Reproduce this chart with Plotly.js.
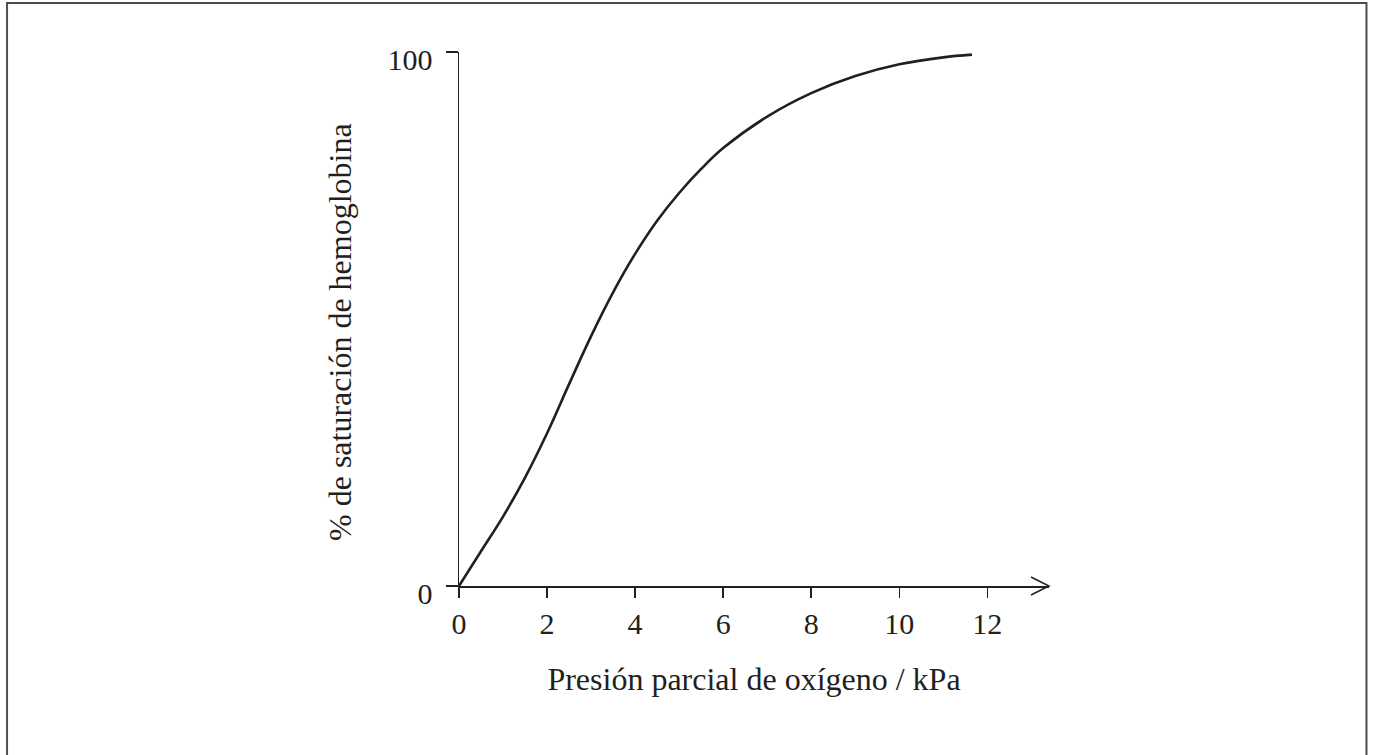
<!DOCTYPE html>
<html>
<head>
<meta charset="utf-8">
<script src="https://cdn.plot.ly/plotly-3.0.1.min.js"></script>
<style>html,body{margin:0;padding:0;background:#fff;}#chart{width:1375px;height:755px;}</style>
</head>
<body>
<div id="chart"></div>
<script>
// Data
const pressure = [0, 0.5, 1, 1.5, 2, 2.5, 3, 3.5, 4, 4.5, 5, 5.5, 6, 7, 8, 9, 10, 11, 11.65];
const saturation = [0, 6.5, 13.0, 20.3, 28.6, 37.8, 46.8, 55.0, 62.2, 68.4, 73.6, 78.1, 82.0, 87.9, 92.3, 95.5, 97.7, 99.0, 99.5];
const xTickVals = [0, 2, 4, 6, 8, 10, 12];
const xTickText = ["0", "2", "4", "6", "8", "10", "12"];
const yTickVals = [0, 100];
const yTickText = ["0", "100"];
const xTitle = "Presión parcial de oxígeno / kPa";
const yTitle = "% de saturación de hemoglobina";

const ink = "#231f20";
const serif = "Liberation Serif, Times New Roman, serif";

const trace = {
  x: pressure,
  y: saturation,
  type: "scatter",
  mode: "lines",
  line: {color: ink, width: 2.6, shape: "spline", smoothing: 1},
  hoverinfo: "skip",
  cliponaxis: false
};

const layout = {
  width: 1375,
  height: 755,
  margin: {l: 459, r: 326, t: 52, b: 169},
  paper_bgcolor: "#ffffff",
  plot_bgcolor: "#ffffff",
  showlegend: false,
  font: {family: serif, color: ink, size: 30},
  xaxis: {
    range: [0, 13.4],
    showgrid: false,
    zeroline: false,
    showline: true,
    linecolor: ink,
    linewidth: 1.5,
    ticks: "outside",
    ticklen: 10,
    tickwidth: 1.5,
    tickcolor: ink,
    tickvals: xTickVals,
    ticktext: xTickText,
    tickfont: {family: serif, size: 30, color: ink},
    title: {text: xTitle, font: {family: serif, size: 32, color: ink}, standoff: 29},
    fixedrange: true
  },
  yaxis: {
    range: [0, 100],
    showgrid: false,
    zeroline: false,
    showline: true,
    linecolor: ink,
    linewidth: 1.5,
    ticks: "outside",
    ticklen: 12,
    tickwidth: 1.5,
    tickcolor: ink,
    tickvals: yTickVals,
    ticktext: yTickText,
    tickfont: {family: serif, size: 30, color: ink},
    ticklabelstandoff: 7,
    ticklabelshift: 7,
    fixedrange: true
  },
  annotations: [{
    text: yTitle,
    xref: "paper", yref: "paper",
    x: -0.2017, y: 0.4757,
    xanchor: "center", yanchor: "middle",
    textangle: -90,
    showarrow: false,
    font: {family: serif, size: 32, color: ink}
  }],
  shapes: [
    {
      type: "path",
      xref: "paper", yref: "paper",
      path: "M 0.9695,0.0169 L 1.0,0 L 0.9695,-0.0169",
      line: {color: ink, width: 1.5}
    },
    {
      type: "rect",
      xref: "paper", yref: "paper",
      x0: -0.766, x1: 1.5381, y0: -0.35, y1: 1.0918,
      line: {color: "#4d4d4d", width: 2},
      fillcolor: "rgba(0,0,0,0)",
      layer: "below"
    }
  ]
};

Plotly.newPlot("chart", [trace], layout, {displayModeBar: false, staticPlot: true});
</script>
</body>
</html>
